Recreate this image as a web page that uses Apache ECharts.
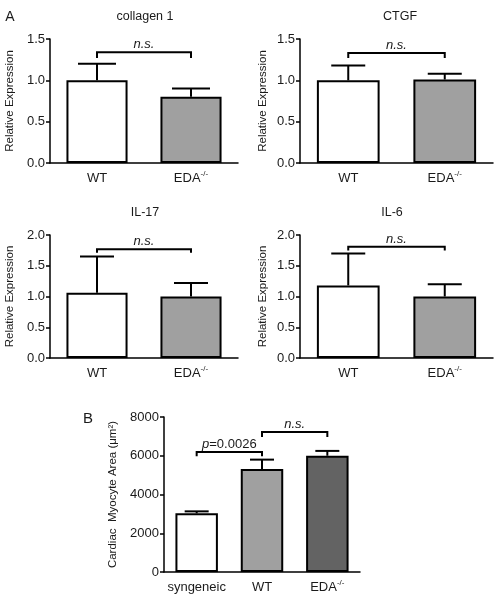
<!DOCTYPE html>
<html>
<head>
<meta charset="utf-8">
<script src="https://cdn.jsdelivr.net/npm/echarts@6/dist/echarts.min.js"></script>
<style>
html,body{margin:0;padding:0;background:#fff;}
#chart{width:495px;height:601px;}
</style>
</head>
<body>
<div id="chart"></div>
<script>
// ---- data ----
const groupCats = ['WT', 'EDA-/-'];
const collagenMean = [1.0, 0.8];
const collagenUpper = [1.2, 0.9];
const ctgfMean = [1.0, 1.01];
const ctgfUpper = [1.18, 1.08];
const il17Mean = [1.06, 1.0];
const il17Upper = [1.65, 1.22];
const il6Mean = [1.18, 1.0];
const il6Upper = [1.70, 1.20];
const areaCats = ['syngeneic', 'WT', 'EDA-/-'];
const areaMean = [3030, 5310, 6000];
const areaUpper = [3130, 5800, 6250];
const expTicks = [0, 0.5, 1.0, 1.5];
const expTicks2 = [0, 0.5, 1.0, 1.5, 2.0];
const areaTicks = [0, 2000, 4000, 6000, 8000];
// brackets: [fromCat, toCat, topValue, tickEndValue]
const collagenBracket = [[0, 1, 1.34, 1.27]];
const ctgfBracket = [[0, 1, 1.33, 1.27]];
const il17Bracket = [[0, 1, 1.77, 1.71]];
const il6Bracket = [[0, 1, 1.81, 1.75]];
const areaBracket = [[0, 1, 6200, 5980], [1, 2, 7230, 6970]];
const collagenLabels = ['{i|n.s.}'];
const ctgfLabels = ['{i|n.s.}'];
const il17Labels = ['{i|n.s.}'];
const il6Labels = ['{i|n.s.}'];
const areaLabels = ['{i|p}=0.0026', '{i|n.s.}'];

const FONT = 'Liberation Sans, Arial, sans-serif';
const TXT = '#1a1a1a';

const chart = echarts.init(document.getElementById('chart'), null, {renderer: 'canvas'});

const grids = [
  {left: 50, top: 39, width: 188, height: 124},
  {left: 300, top: 39, width: 193, height: 124},
  {left: 50, top: 235, width: 188, height: 123},
  {left: 300, top: 235, width: 193, height: 123},
  {left: 164, top: 417, width: 196, height: 155}
];

function catLabel(v) {
  return v.replace('-/-', '{sup|-/-}');
}
const catRich = {sup: {fontSize: 8, fontFamily: FONT, color: TXT, padding: [0, 0, 9, 0]}};

function xAx(gi, cats) {
  return {
    type: 'category', gridIndex: gi, data: cats,
    axisLine: {lineStyle: {color: '#000', width: 1.5}},
    axisTick: {alignWithLabel: true, interval: 0, length: 4, lineStyle: {color: '#000', width: 1.5}},
    axisLabel: {interval: 0, color: TXT, fontSize: 13, lineHeight: 18, fontFamily: FONT, margin: 6, formatter: catLabel, rich: catRich}
  };
}
function yAx(gi, ticks, name, gap, fmt, nameSize) {
  return {
    type: 'value', gridIndex: gi, min: ticks[0], max: ticks[ticks.length - 1],
    interval: ticks[1] - ticks[0],
    name: name, nameLocation: 'middle', nameGap: gap,
    nameTextStyle: {color: TXT, fontSize: nameSize, fontFamily: FONT},
    splitLine: {show: false},
    axisLine: {show: true, lineStyle: {color: '#000', width: 1.5}},
    axisTick: {show: true, length: 4, lineStyle: {color: '#000', width: 1.5}},
    axisLabel: {color: TXT, fontSize: 13, fontFamily: FONT, margin: 5, formatter: fmt}
  };
}
const f1 = v => v.toFixed(1);
const f0 = v => String(Math.round(v));

function barSeries(gi, vals, colors) {
  return {
    type: 'bar', xAxisIndex: gi, yAxisIndex: gi, barWidth: '65%',
    data: vals.map((v, i) => ({value: v, itemStyle: {color: colors[i]}})),
    itemStyle: {borderColor: '#000', borderWidth: 2},
    silent: true, animation: false
  };
}
function errSeries(gi, means, uppers, capW) {
  return {
    type: 'custom', xAxisIndex: gi, yAxisIndex: gi, z: 5, silent: true, animation: false,
    encode: {x: 0, y: [1, 2]},
    data: means.map((m, i) => [i, m, uppers[i]]),
    renderItem: function (params, api) {
      const x = api.value(0), m = api.value(1), u = api.value(2);
      const p0 = api.coord([x, m]);
      const p1 = api.coord([x, u]);
      return {type: 'group', children: [
        {type: 'line', shape: {x1: p0[0], y1: p0[1], x2: p1[0], y2: p1[1]}, style: {stroke: '#000', lineWidth: 2}},
        {type: 'line', shape: {x1: p1[0] - capW / 2, y1: p1[1], x2: p1[0] + capW / 2, y2: p1[1]}, style: {stroke: '#000', lineWidth: 2}}
      ]};
    }
  };
}
function bracketSeries(gi, brackets, labels) {
  return {
    type: 'custom', xAxisIndex: gi, yAxisIndex: gi, z: 6, silent: true, animation: false,
    encode: {x: [0, 1], y: [2, 3]},
    data: brackets,
    renderItem: function (params, api) {
      const a = api.value(0), b = api.value(1), top = api.value(2), low = api.value(3);
      const pa = api.coord([a, top]), pb = api.coord([b, top]);
      const pl = api.coord([a, low]);
      const txt = labels[params.dataIndex];
      return {type: 'group', children: [
        {type: 'polyline', shape: {points: [[pa[0], pl[1]], [pa[0], pa[1]], [pb[0], pb[1]], [pb[0], pl[1]]]},
          style: {stroke: '#000', lineWidth: 2, fill: null}},
        {type: 'text', x: (pa[0] + pb[0]) / 2, y: pa[1] - 1,
          style: {text: txt, fill: TXT, fontSize: 13, fontFamily: FONT,
            align: 'center', verticalAlign: 'bottom',
            rich: {i: {fontStyle: 'italic', fontSize: 13, fontFamily: FONT, fill: TXT, color: TXT}}}}
      ]};
    }
  };
}

const white = '#ffffff', grey = '#a0a0a0', dark = '#636363';

function textG(t, x, y, size) {
  return {type: 'text', x: x, y: y, style: {text: t, fill: TXT, fontSize: size, fontFamily: FONT, align: 'center', verticalAlign: 'middle'}};
}

const option = {
  backgroundColor: '#fff',
  animation: false,
  grid: grids,
  xAxis: [xAx(0, groupCats), xAx(1, groupCats), xAx(2, groupCats), xAx(3, groupCats), xAx(4, areaCats)],
  yAxis: [
    yAx(0, expTicks, 'Relative Expression', 34, f1, 11.5),
    yAx(1, expTicks, 'Relative Expression', 31, f1, 11.5),
    yAx(2, expTicks2, 'Relative Expression', 34, f1, 11.5),
    yAx(3, expTicks2, 'Relative Expression', 31, f1, 11.5),
    yAx(4, areaTicks, 'Cardiac  Myocyte Area (\u03bcm\u00b2)', 45, f0, 11.5)
  ],
  series: [
    barSeries(0, collagenMean, [white, grey]),
    errSeries(0, collagenMean, collagenUpper, 38),
    bracketSeries(0, collagenBracket, collagenLabels),
    barSeries(1, ctgfMean, [white, grey]),
    errSeries(1, ctgfMean, ctgfUpper, 34),
    bracketSeries(1, ctgfBracket, ctgfLabels),
    barSeries(2, il17Mean, [white, grey]),
    errSeries(2, il17Mean, il17Upper, 34),
    bracketSeries(2, il17Bracket, il17Labels),
    barSeries(3, il6Mean, [white, grey]),
    errSeries(3, il6Mean, il6Upper, 34),
    bracketSeries(3, il6Bracket, il6Labels),
    barSeries(4, areaMean, [white, grey, dark]),
    errSeries(4, areaMean, areaUpper, 24),
    bracketSeries(4, areaBracket, areaLabels)
  ],
  graphic: [
    textG('A', 10, 17, 14),
    textG('collagen 1', 145, 17, 12.5),
    textG('CTGF', 400, 17, 12.5),
    textG('IL-17', 145, 213, 12.5),
    textG('IL-6', 392, 213, 12.5),
    textG('B', 88, 419, 15)
  ]
};
chart.setOption(option);
</script>
</body>
</html>
